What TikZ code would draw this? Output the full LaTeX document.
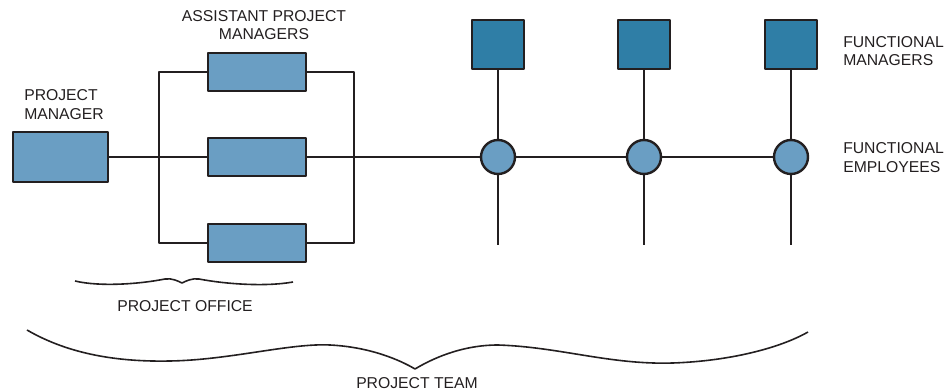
\documentclass[tikz,border=0pt]{standalone}
\usepackage{fontspec}
\setmainfont{Liberation Sans}
\definecolor{orgline}{HTML}{231F20}
\definecolor{pmblue}{HTML}{6A9EC3}
\definecolor{fmblue}{HTML}{2F7EA6}

\begin{document}
\begin{tikzpicture}[
  x=0.75pt,
  y=-0.75pt,
  line join=round,
  font=\fontsize{11.8}{14}\selectfont,
  wire/.style={draw=orgline,line width=1.5pt},
  pmbox/.style={draw=orgline,line width=1.8pt,fill=pmblue,minimum width=71pt,minimum height=37.5pt,inner sep=0pt},
  apmbox/.style={draw=orgline,line width=1.8pt,fill=pmblue,minimum width=73.5pt,minimum height=28.5pt,inner sep=0pt},
  fmbox/.style={draw=orgline,line width=1.8pt,fill=fmblue,minimum width=39pt,minimum height=36.75pt,inner sep=0pt},
  fecircle/.style={circle,draw=orgline,line width=1.8pt,fill=pmblue,minimum size=25.5pt,inner sep=0pt},
  caption/.style={text=orgline,inner sep=0pt}
]
  \useasboundingbox (0,0) rectangle (951,392);

  % Project manager and the three assistant project managers.
  \node[pmbox] (pm) at (60.5,157) {};
  \node[apmbox] (apm1) at (257,72) {};
  \node[apmbox] (apm2) at (257,157) {};
  \node[apmbox] (apm3) at (257,243) {};

  % Functional managers (squares) and functional employees (circles).
  \foreach \i/\x in {1/498,2/644,3/791} {
    \node[fmbox] (fm\i) at (\x,44.5) {};
    \node[fecircle] (fe\i) at (\x,157) {};
    \coordinate (end\i) at (\x,245);
  }

  % Buses on both sides of the assistant project managers.
  \coordinate (busL) at (159,157);
  \coordinate (busR) at (354,157);
  \draw[wire] (apm1.west) -| (busL) |- (apm3.west);
  \draw[wire] (apm1.east) -| (busR) |- (apm3.east);
  \draw[wire] (pm.east) -- (apm2.west);
  \draw[wire] (apm2.east) -- (fe1.west);
  \draw[wire] (fe1.east) -- (fe2.west);
  \draw[wire] (fe2.east) -- (fe3.west);
  \foreach \i in {1,2,3} {
    \draw[wire] (fm\i.south) -- (fe\i.north);
    \draw[wire] (fe\i.south) -- (end\i);
  }

  % Labels.
  \node[caption,align=left,anchor=west] (pmlabel) at (24,104.5) {PROJECT\\MANAGER};
  \node[caption,align=center] (apmlabel) at (264,25) {ASSISTANT PROJECT\\MANAGERS};
  \node[caption,align=left,anchor=west] (fmlabel) at (843,51) {FUNCTIONAL\\MANAGERS};
  \node[caption,align=left,anchor=west] (felabel) at (843,157.5) {FUNCTIONAL\\EMPLOYEES};
  \node[caption] (officelabel) at (185,306) {PROJECT OFFICE};
  \node[caption] (teamlabel) at (417,383) {PROJECT TEAM};

  % Hand-drawn braces.
  \draw[draw=orgline,line width=1.2pt]
    (75,281) .. controls (100,287) and (140,284) .. (165,279)
    .. controls (172,278) and (178,281) .. (182,283)
    .. controls (186,281) and (192,278) .. (199,279)
    .. controls (225,284) and (265,287) .. (293,282);
  \draw[draw=orgline,line width=1.2pt]
    (27,330) .. controls (70,355) and (120,362) .. (170,361)
    .. controls (230,360) and (290,343) .. (330,345)
    .. controls (370,347) and (400,360) .. (415,369)
    .. controls (430,360) and (460,345) .. (498,345)
    .. controls (560,347) and (610,365) .. (673,363)
    .. controls (730,361) and (780,348) .. (808,332);
\end{tikzpicture}
\end{document}
